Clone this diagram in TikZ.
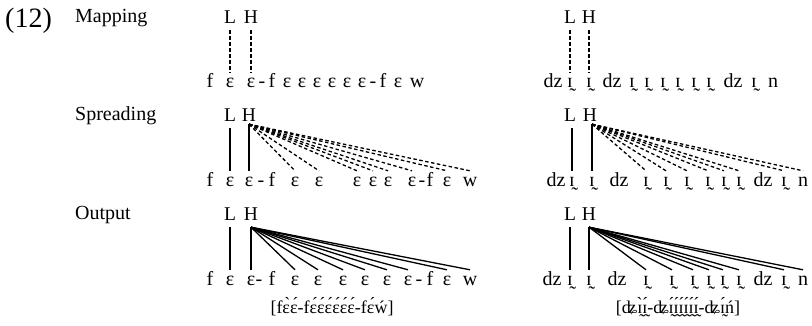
\documentclass[tikz,border=0pt]{standalone}
\usepackage{fontspec}
\setmainfont{Liberation Serif}
\begin{document}
\begin{tikzpicture}[x=1pt,y=-1pt,
  seg/.style={anchor=base,inner xsep=0pt,inner ysep=6pt,text height=9pt,text depth=0pt,font=\fontsize{20}{22}\selectfont},
  tone/.style={anchor=base,inner xsep=0pt,inner ysep=6pt,text depth=0pt,font=\fontsize{19.5}{22}\selectfont},
  lab/.style={anchor=base west,inner sep=0pt,font=\fontsize{20}{22}\selectfont},
  trans/.style={anchor=base,inner sep=0pt,font=\fontsize{18}{20}\selectfont},
  assoc/.style={line width=1.3pt},
  dassoc/.style={line width=1.3pt,dash pattern=on 3.5pt off 2.5pt},
]
\useasboundingbox (0,0) rectangle (812,326);

% labels
\node[anchor=base west,inner sep=0pt,font=\fontsize{28}{30}\selectfont] (num) at (5,28) {(12)};
\node[lab] (lmap) at (75,23) {Mapping};
\node[lab] (lspr) at (75,121) {Spreading};
\node[lab] (lout) at (75,220) {Output};

% ---------- left column ----------
% row 1
\foreach \x/\t [count=\i] in {210/f,230/ɛ,251/ɛ,262/-,272/f,287/ɛ,302/ɛ,317/ɛ,332/ɛ,347/ɛ,362/ɛ,373/-,383/f,398/ɛ,417/w}
  \node[seg] (a1s\i) at (\x,88) {\t};
\node[tone] (aL1) at (230,24) {L};
\node[tone] (aH1) at (251,24) {H};
\draw[dassoc] (aL1.south) -- (a1s2.north);
\draw[dassoc] (aH1.south) -- (a1s3.north);

% row 2
\foreach \x/\t [count=\i] in {210/f,230/ɛ,249/ɛ,261/-,272/f,295/ɛ,319/ɛ,357/ɛ,373/ɛ,388/ɛ,412/ɛ,422/-,430/f,447/ɛ,470/w}
  \node[seg] (a2s\i) at (\x,186) {\t};
\node[tone] (aL2) at (230,122) {L};
\node[tone] (aH2) at (249,122) {H};
\draw[assoc] (aL2.south) -- (a2s2.north);
\draw[assoc] ([yshift=4pt]aH2.south) -- (a2s3.north);
\foreach \k in {6,7,8,9,10,11,14,15}
  \draw[dassoc] ([yshift=4pt]aH2.south) -- (a2s\k.north);

% row 3
\foreach \x/\t [count=\i] in {210/f,230/ɛ,251/ɛ,259/-,272/f,295/ɛ,318/ɛ,343/ɛ,365/ɛ,387/ɛ,408/ɛ,419/-,430/f,447/ɛ,470/w}
  \node[seg] (a3s\i) at (\x,285) {\t};
\node[tone] (aL3) at (230,221) {L};
\node[tone] (aH3) at (251,221) {H};
\draw[assoc] (aL3.south) -- (a3s2.north);
\draw[assoc] (aH3.south) -- (a3s3.north);
\foreach \k in {6,7,8,9,10,11,14,15}
  \draw[assoc] (aH3.south) -- (a3s\k.north);

\node[trans] (atr) at (332,313) {[fɛ̀ɛ́-fɛ́ɛ́ɛ́ɛ́ɛ́ɛ́-fɛ́ẃ]};

% ---------- right column ----------
% row 1
\foreach \x/\t [count=\i] in {553/dz,570/ɪ̰,589/ɪ̰,612/dz,632/ɪ̰,647/ɪ̰,663/ɪ̰,678/ɪ̰,694/ɪ̰,709/ɪ̰,733/dz,754/ɪ̰,773/n}
  \node[seg] (b1s\i) at (\x,88) {\t};
\node[tone] (bL1) at (570,24) {L};
\node[tone] (bH1) at (589,24) {H};
\draw[dassoc] (bL1.south) -- (b1s2.north);
\draw[dassoc] (bH1.south) -- (b1s3.north);

% row 2
\foreach \x/\t [count=\i] in {556/dz,572/ɪ̰,592/ɪ̰,619/dz,646/ɪ̰,666/ɪ̰,687/ɪ̰,708/ɪ̰,724/ɪ̰,739/ɪ̰,763/dz,784/ɪ̰,803/n}
  \node[seg] (b2s\i) at (\x,186) {\t};
\node[tone] (bL2) at (570,122) {L};
\node[tone] (bH2) at (590,122) {H};
\draw[assoc] (bL2.south -| b2s2.north) -- (b2s2.north);
\draw[assoc] ([yshift=4pt]bH2.south -| b2s3.north) -- (b2s3.north);
\foreach \k in {5,6,7,8,9,10,12,13}
  \draw[dassoc] ([yshift=4pt]bH2.south -| b2s3.north) -- (b2s\k.north);

% row 3
\foreach \x/\t [count=\i] in {552/dz,570/ɪ̰,589/ɪ̰,617/dz,646/ɪ̰,672/ɪ̰,693/ɪ̰,709/ɪ̰,723/ɪ̰,739/ɪ̰,763/dz,784/ɪ̰,803/n}
  \node[seg] (b3s\i) at (\x,285) {\t};
\node[tone] (bL3) at (570,221) {L};
\node[tone] (bH3) at (589,221) {H};
\draw[assoc] (bL3.south) -- (b3s2.north);
\draw[assoc] (bH3.south) -- (b3s3.north);
\foreach \k in {5,6,7,8,9,10,12,13}
  \draw[assoc] (bH3.south) -- (b3s\k.north);

\node[trans] (btr) at (678,313) {[ʥɪ̰̀ɪ̰́-ʥɪ̰́ɪ̰́ɪ̰́ɪ̰́ɪ̰́ɪ̰́-ʥɪ̰́ń]};
\end{tikzpicture}
\end{document}
